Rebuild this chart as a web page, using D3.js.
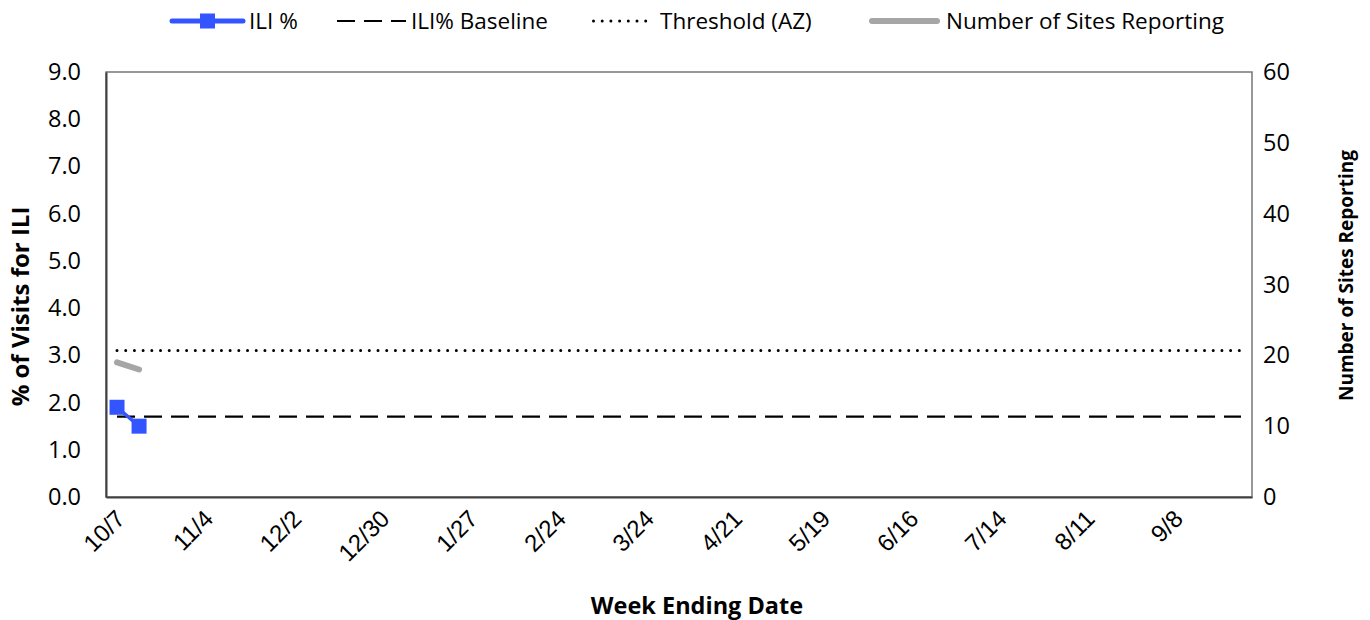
<!DOCTYPE html>
<html>
<head>
<meta charset="utf-8">
<script src="https://cdn.jsdelivr.net/npm/d3@7"></script>
<style>
  body { margin: 0; background: #fff; }
  svg text { font-family: "Open Sans", "Noto Sans", sans-serif; fill: #000; }
  .xtick text { font-family: "Liberation Sans", Arial, sans-serif; }
  .axis-title { font-weight: bold; }
</style>
</head>
<body>
<svg id="chart" width="1370" height="620"></svg>
<script>
(function () {
    // week ending dates, 2017-18 season
    var weeks = ["10/7","10/14","10/21","10/28","11/4","11/11","11/18","11/25",
        "12/2","12/9","12/16","12/23","12/30","1/6","1/13","1/20","1/27",
        "2/3","2/10","2/17","2/24","3/3","3/10","3/17","3/24","3/31",
        "4/7","4/14","4/21","4/28","5/5","5/12","5/19","5/26",
        "6/2","6/9","6/16","6/23","6/30","7/7","7/14","7/21","7/28",
        "8/4","8/11","8/18","8/25","9/1","9/8","9/15","9/22","9/29"];
    var tickWeeks = ["10/7","11/4","12/2","12/30","1/27","2/24","3/24","4/21","5/19","6/16","7/14","8/11","9/8"];

    // only the first two weeks reported so far
    var iliPct = [1.9, 1.5];
    var sitesReporting = [19, 18];
    var baselinePct = 1.7;
    var thresholdAZ = 3.1;

    var leftTicks = [0, 1, 2, 3, 4, 5, 6, 7, 8, 9];
    var rightTicks = [0, 10, 20, 30, 40, 50, 60];

    var left = 106, right = 1252, top = 72, bottom = 497;
    var width = right - left, height = bottom - top;

    var svg = d3.select("#chart");
    var chart = svg.append("g").attr("transform", `translate(${left}, ${top})`);

    var x = d3.scalePoint().domain(weeks).range([0, width]).padding(0.5);
    var y = d3.scaleLinear().domain([0, 9]).range([height, 0]);
    var y2 = d3.scaleLinear().domain([0, 60]).range([height, 0]);

    // plot frame
    chart.append("rect")
        .attr("width", width).attr("height", height)
        .attr("fill", "none").attr("stroke", "#767676").attr("stroke-width", 1.5);

    // left axis
    chart.append("g")
        .call(d3.axisLeft(y).tickValues(leftTicks).tickFormat(d3.format(".1f")).tickSize(0).tickPadding(25))
        .call(g => g.select(".domain").attr("stroke", "#404040").attr("stroke-width", 2))
        .selectAll("text").style("font-size", "23.5px");

    // right axis
    chart.append("g")
        .attr("transform", `translate(${width},0)`)
        .call(d3.axisRight(y2).tickValues(rightTicks).tickSize(0).tickPadding(11))
        .call(g => g.select(".domain").remove())
        .selectAll("text").style("font-size", "23.5px");

    // bottom axis
    chart.append("g")
        .attr("class", "xtick")
        .attr("transform", `translate(0,${height})`)
        .call(d3.axisBottom(x).tickValues(tickWeeks).tickSize(0))
        .call(g => g.select(".domain").attr("stroke", "#404040").attr("stroke-width", 2))
        .selectAll("text")
        .style("font-size", "24px")
        .attr("text-anchor", "end")
        .attr("x", -10).attr("y", 6).attr("dy", "0.7em")
        .attr("transform", "rotate(-45)");

    var first = weeks[0], last = weeks[weeks.length - 1];

    // baseline (dashed)
    chart.append("line")
        .attr("x1", x(first)).attr("x2", x(last))
        .attr("y1", y(baselinePct)).attr("y2", y(baselinePct))
        .attr("stroke", "#000").attr("stroke-width", 2.2)
        .attr("stroke-dasharray", "18,9");

    // threshold (dotted)
    chart.append("line")
        .attr("x1", x(first)).attr("x2", x(last))
        .attr("y1", y(thresholdAZ)).attr("y2", y(thresholdAZ))
        .attr("stroke", "#000").attr("stroke-width", 3)
        .attr("stroke-linecap", "round")
        .attr("stroke-dasharray", "0,8.7");

    // sites reporting (right axis)
    var sitesData = sitesReporting.map((v, i) => ({ week: weeks[i], value: v }));
    chart.append("path")
        .datum(sitesData)
        .attr("fill", "none").attr("stroke", "#a6a6a6").attr("stroke-width", 6)
        .attr("stroke-linecap", "round")
        .attr("d", d3.line().x(d => x(d.week)).y(d => y2(d.value)));

    // ILI %
    var iliData = iliPct.map((v, i) => ({ week: weeks[i], value: v }));
    chart.append("path")
        .datum(iliData)
        .attr("fill", "none").attr("stroke", "#3355ff").attr("stroke-width", 3.5)
        .attr("d", d3.line().x(d => x(d.week)).y(d => y(d.value)));
    chart.append("g").selectAll("rect")
        .data(iliData)
        .join("rect")
        .attr("x", d => x(d.week) - 7.5)
        .attr("y", d => y(d.value) - 7.5)
        .attr("width", 15).attr("height", 15)
        .attr("fill", "#3355ff");

    // axis titles
    svg.append("text").attr("class", "axis-title")
        .attr("transform", `translate(29,${top + height / 2 + 22}) rotate(-90)`)
        .attr("text-anchor", "middle").style("font-size", "24px")
        .text("% of Visits for ILI");
    svg.append("text").attr("class", "axis-title")
        .attr("transform", `translate(1353,${top + height / 2 - 9}) rotate(-90)`)
        .attr("text-anchor", "middle").style("font-size", "19px")
        .text("Number of Sites Reporting");
    svg.append("text").attr("class", "axis-title")
        .attr("x", 697).attr("y", 614)
        .attr("text-anchor", "middle").style("font-size", "23.5px")
        .text("Week Ending Date");

    // legend
    var legend = svg.append("g").attr("transform", "translate(0,21)");
    var items = [
        { label: "ILI %", x1: 172, x2: 243, tx: 249 },
        { label: "ILI% Baseline", x1: 337, x2: 406, tx: 411 },
        { label: "Threshold (AZ)", x1: 592, x2: 654, tx: 660 },
        { label: "Number of Sites Reporting", x1: 869, x2: 940, tx: 946 }
    ];
    legend.append("line").attr("x1", items[0].x1).attr("x2", items[0].x2)
        .attr("stroke", "#3355ff").attr("stroke-width", 5).attr("stroke-linecap", "round");
    legend.append("rect").attr("x", (items[0].x1 + items[0].x2) / 2 - 7.5).attr("y", -7.5)
        .attr("width", 15).attr("height", 15).attr("fill", "#3355ff");
    legend.append("line").attr("x1", items[1].x1).attr("x2", items[1].x2)
        .attr("stroke", "#000").attr("stroke-width", 2.2).attr("stroke-dasharray", "18,9");
    legend.append("line").attr("x1", items[2].x1 + 1.5).attr("x2", items[2].x2)
        .attr("stroke", "#000").attr("stroke-width", 3).attr("stroke-linecap", "round")
        .attr("stroke-dasharray", "0,8.7");
    legend.append("line").attr("x1", items[3].x1 + 3).attr("x2", items[3].x2 - 3)
        .attr("stroke", "#a6a6a6").attr("stroke-width", 6).attr("stroke-linecap", "round");
    legend.selectAll("text.lg")
        .data(items)
        .join("text")
        .attr("class", "lg")
        .attr("x", d => d.tx).attr("dy", "0.35em")
        .style("font-size", "22.5px")
        .text(d => d.label);
})();
</script>
</body>
</html>
